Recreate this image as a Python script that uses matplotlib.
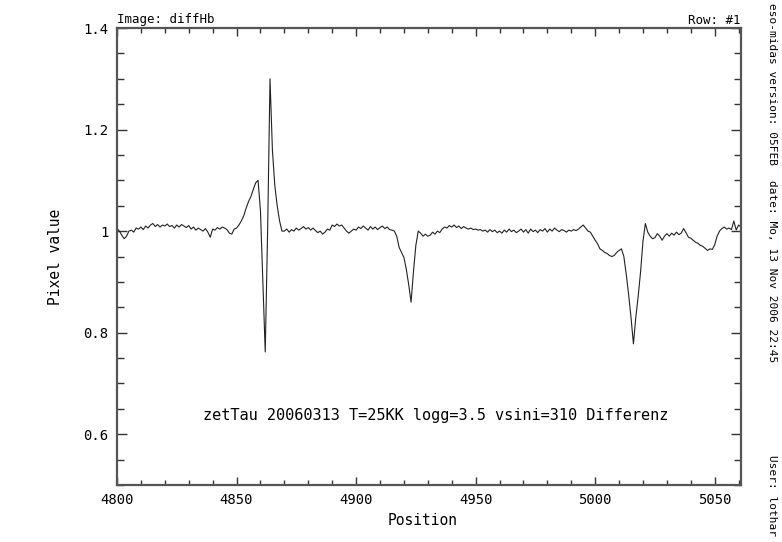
import numpy as np
import matplotlib
matplotlib.use("Agg")
import matplotlib.pyplot as plt
from matplotlib.ticker import MultipleLocator, FuncFormatter

# ---- data ----
WAVE_START = 4800.0
WAVE_STEP = 1.0
flux = [
    1.005, 1.0, 0.992, 0.985, 0.99, 1.0, 1.002, 0.998, 1.006, 1.004,      # 4800
    1.008, 1.003, 1.01, 1.006, 1.012, 1.015, 1.009, 1.013, 1.008, 1.012,  # 4810
    1.01, 1.014, 1.009, 1.011, 1.006, 1.012, 1.008, 1.013, 1.01, 1.007,   # 4820
    1.011, 1.004, 1.008, 1.002, 1.006, 1.003, 1.0, 1.005, 0.998, 0.988,   # 4830
    1.004, 1.002, 1.007, 1.004, 1.008, 1.006, 1.003, 0.996, 0.994, 1.004, # 4840
    1.006, 1.012, 1.02, 1.03, 1.045, 1.058, 1.068, 1.082, 1.095, 1.10,    # 4850
    1.04, 0.90, 0.762, 1.0, 1.30, 1.16, 1.09, 1.05, 1.02, 1.0,            # 4860
    1.0, 1.004, 0.998, 1.003, 1.0, 1.006, 1.002, 1.005, 1.009, 1.004,     # 4870
    1.007, 1.002, 1.006, 1.001, 0.997, 1.0, 0.994, 0.998, 1.004, 1.002,   # 4880
    1.012, 1.009, 1.014, 1.01, 1.012, 1.006, 1.0, 0.996, 1.0, 1.004,      # 4890
    1.002, 1.008, 1.005, 1.01, 1.006, 1.002, 1.009, 1.004, 1.008, 1.003,  # 4900
    1.007, 1.01, 1.005, 1.008, 1.003, 1.002, 1.0, 0.99, 0.968, 0.958,     # 4910
    0.948, 0.925, 0.895, 0.86, 0.92, 0.972, 1.0, 0.996, 0.99, 0.994,      # 4920
    0.99, 0.992, 0.998, 0.994, 1.0, 0.997, 1.004, 1.008, 1.006, 1.011,    # 4930
    1.008, 1.012, 1.007, 1.01, 1.005, 1.009, 1.006, 1.004, 1.006, 1.003,  # 4940
    1.004, 1.002, 1.003, 1.0, 1.002, 0.998, 1.003, 0.999, 1.002, 0.997,   # 4950
    1.0, 0.996, 1.002, 0.998, 1.004, 0.999, 1.002, 0.997, 1.0, 1.004,     # 4960
    0.998, 1.003, 0.996, 1.004, 0.999, 1.002, 0.997, 1.003, 1.0, 1.005,   # 4970
    0.998, 1.004, 1.0, 1.006, 1.002, 0.999, 1.003, 1.001, 0.998, 1.002,   # 4980
    1.0, 1.003, 1.001, 1.004, 1.008, 1.012, 1.006, 1.0, 0.998, 0.99,      # 4990
    0.982, 0.975, 0.965, 0.962, 0.958, 0.956, 0.952, 0.95, 0.952, 0.958,  # 5000
    0.962, 0.965, 0.95, 0.915, 0.875, 0.83, 0.778, 0.83, 0.872, 0.92,     # 5010
    0.98, 1.015, 0.998, 0.99, 0.985, 0.987, 0.995, 0.99, 0.982, 0.99,     # 5020
    0.995, 0.99, 0.996, 0.992, 0.998, 0.993, 0.996, 1.005, 0.997, 0.988,  # 5030
    0.986, 0.982, 0.978, 0.976, 0.972, 0.97, 0.966, 0.962, 0.965, 0.964,  # 5040
    0.973, 0.99, 1.0, 1.005, 1.008, 1.004, 1.006, 1.003, 1.02, 1.002,     # 5050
    1.012, 1.008,                                                         # 5060
]
x_ticks = [4800, 4850, 4900, 4950, 5000, 5050]
y_ticks = [0.6, 0.8, 1.0, 1.2, 1.4]
x_limits = (4800, 5061)
y_limits = (0.5, 1.4)

title_left = "Image: diffHb"
title_right = "Row: #1"
x_label = "Position"
y_label = "Pixel value"
annotation = "zetTau 20060313 T=25KK logg=3.5 vsini=310 Differenz"
annot_pos = (4836, 0.636)
side_texts = ["eso-midas version: 05FEB", "date: Mo, 13 Nov 2006 22:45", "User: lothar"]

wave = WAVE_START + WAVE_STEP * np.arange(len(flux))

FONT = "DejaVu Sans Mono"
plt.rcParams["font.family"] = FONT

W, H = 782, 542
fig = plt.figure(figsize=(W / 100, H / 100), dpi=100)
L, R, T, B = 117, 741, 28, 485
ax = fig.add_axes([L / W, 1 - B / H, (R - L) / W, (B - T) / H])

ax.plot(wave, flux, color="#222222", lw=0.8)
ax.set_xlim(*x_limits)
ax.set_ylim(*y_limits)

ax.set_xticks(x_ticks)
ax.set_yticks(y_ticks)
ax.xaxis.set_minor_locator(MultipleLocator(10))
ax.yaxis.set_minor_locator(MultipleLocator(0.05))
ax.yaxis.set_major_formatter(FuncFormatter(lambda v, p: f"{v:g}"))
ax.tick_params(which="both", direction="in", top=True, right=True,
               color="#333333", width=1.0, labelsize=10, labelcolor="black")
ax.tick_params(axis="x", which="major", length=6, pad=6)
ax.tick_params(axis="x", which="minor", length=3.5)
ax.tick_params(axis="y", which="major", length=7, pad=6)
ax.tick_params(axis="y", which="minor", length=5)
for s in ax.spines.values():
    s.set_color("#555555")
    s.set_linewidth(1.6)

ax.set_xlabel(x_label, fontsize=10.5)
ax.set_ylabel(y_label, fontsize=10.5)
ax.xaxis.set_label_coords(0.49, -0.061)
ax.yaxis.set_label_coords(-0.0865, 0.5)

ax.text(*annot_pos, annotation, fontsize=11, va="center", ha="left")

fig.text(L / W, 1 - 20 / H, title_left, fontsize=9, ha="left", va="center")
fig.text(R / W, 1 - 21 / H, title_right, fontsize=9, ha="right", va="center")

side_tops = [3, 180, 455]
for txt, top in zip(side_texts, side_tops):
    fig.text(772 / W, 1 - top / H, txt, fontsize=8, rotation=270,
             ha="center", va="top")

fig.savefig("out.png", dpi=100)
